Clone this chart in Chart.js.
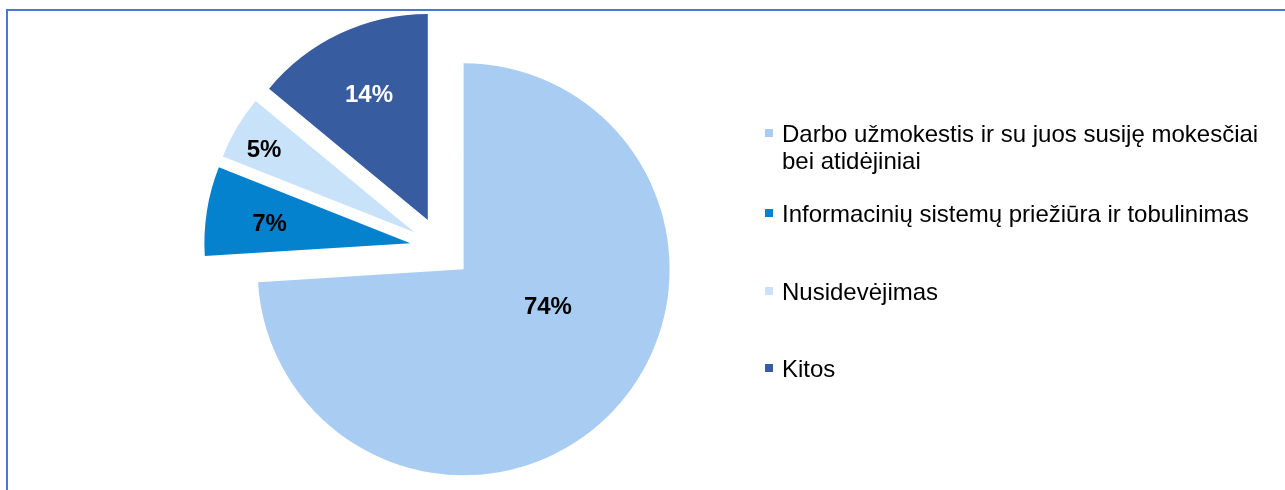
<!DOCTYPE html>
<html lang="lt">
<head>
<meta charset="UTF-8">
<title>Išlaidų struktūra</title>
<script src="https://cdn.jsdelivr.net/npm/chart.js"></script>
<style>
  html, body { margin: 0; padding: 0; background: #fff; }
  body { width: 1285px; height: 490px; position: relative; overflow: hidden;
         font-family: "Liberation Sans", Arial, sans-serif; }
  #frame { position: absolute; left: 6px; top: 9px; right: -10px; bottom: -10px;
           border-left: 2px solid #4a78cc; border-top: 2px solid #4a78cc; }
  #chart { position: absolute; left: 0; top: 0; }
  #legend { position: absolute; left: 765px; top: 120px; margin: 0; padding: 0; list-style: none;
            font-size: 24px; line-height: 27px; color: #000; }
  #legend li { position: relative; padding-left: 17px; width: 490px; }
  #legend li span.box { position: absolute; left: 0; top: 9px; width: 8px; height: 8px; }
  #legend li:nth-child(2) { margin-top: 26px; }
  #legend li:nth-child(3) { margin-top: 51px; }
  #legend li:nth-child(4) { margin-top: 50px; }
</style>
</head>
<body>
<div id="frame"></div>
<canvas id="chart" width="1285" height="490"></canvas>
<ul id="legend"></ul>
<script>
// Data
const categories = [
  "Darbo užmokestis ir su juos susiję mokesčiai bei atidėjiniai",
  "Informacinių sistemų priežiūra ir tobulinimas",
  "Nusidevėjimas",
  "Kitos"
];
const shares = [74, 7, 5, 14];
const sliceColors = ["#a9cdf2", "#0582cd", "#c8e2fa", "#375ca0"];
const labelColors = ["#000", "#000", "#000", "#fff"];

// Exploded slices + percentage labels
const explodePlugin = {
  id: "explode",
  beforeDatasetDraw(chart, args, opts) {
    const ctx = chart.ctx;
    const arcs = args.meta.data;
    const shift = (arc, i) => {
      const mid = (arc.startAngle + arc.endAngle) / 2;
      return [Math.cos(mid) * opts.distance[i], Math.sin(mid) * opts.distance[i]];
    };
    arcs.forEach((arc, i) => {
      const [dx, dy] = shift(arc, i);
      ctx.save();
      ctx.translate(dx, dy);
      arc.draw(ctx);
      ctx.restore();
    });
    ctx.save();
    ctx.font = "bold 24px 'Liberation Sans', Arial, sans-serif";
    ctx.textAlign = "center";
    ctx.textBaseline = "middle";
    arcs.forEach((arc, i) => {
      const [dx, dy] = shift(arc, i);
      const a = arc.startAngle + (arc.endAngle - arc.startAngle) * opts.along[i];
      const r = arc.outerRadius * opts.radial[i];
      ctx.fillStyle = labelColors[i];
      ctx.fillText(shares[i] + "%", arc.x + dx + Math.cos(a) * r, arc.y + dy + Math.sin(a) * r);
    });
    ctx.restore();
    return false;
  }
};

new Chart(document.getElementById("chart"), {
  type: "pie",
  data: {
    labels: categories,
    datasets: [{
      data: shares,
      backgroundColor: sliceColors,
      borderWidth: 0
    }]
  },
  options: {
    responsive: false,
    animation: false,
    events: [],
    radius: 206,
    layout: { padding: { left: 0, right: 403, top: 6, bottom: 0 } },
    plugins: {
      legend: { display: false },
      tooltip: { enabled: false },
      explode: {
        distance: [31, 31, 31, 31],
        along: [0.43, 0.45, 0.38, 0.5],
        radial: [0.45, 0.69, 0.83, 0.67]
      }
    }
  },
  plugins: [explodePlugin]
});

// Legend
const legend = document.getElementById("legend");
categories.forEach((name, i) => {
  const li = document.createElement("li");
  const box = document.createElement("span");
  box.className = "box";
  box.style.background = sliceColors[i];
  li.appendChild(box);
  li.appendChild(document.createTextNode(name));
  legend.appendChild(li);
});
</script>
</body>
</html>
